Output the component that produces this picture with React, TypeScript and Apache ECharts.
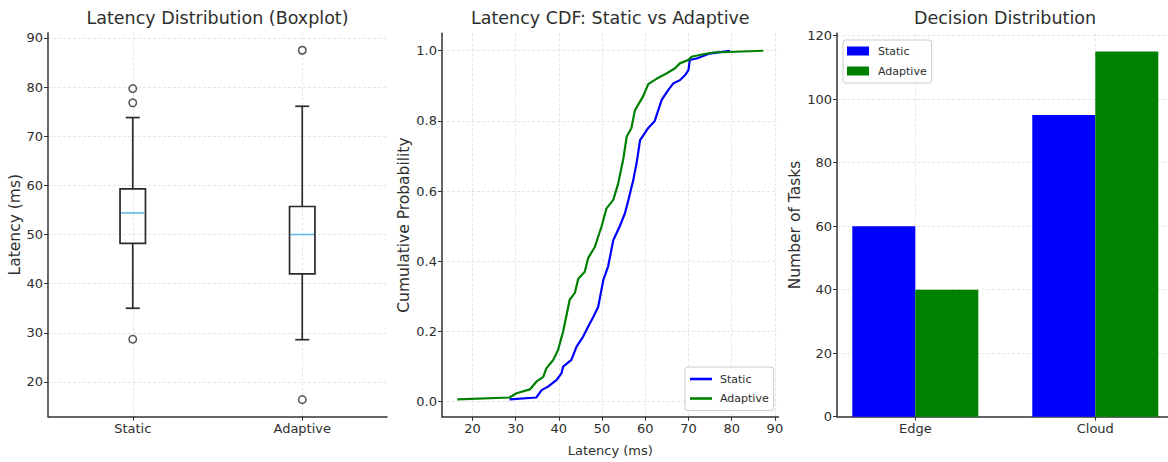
import React, { useEffect, useRef } from 'react';
import * as echarts from 'echarts';

// ---------- Data ----------
const boxCategories = ['Static', 'Adaptive'];
// [lower whisker, Q1, median, Q3, upper whisker]
const boxStats = [
  [35.0, 48.2, 54.4, 59.3, 73.8],
  [28.6, 42.0, 50.0, 55.7, 76.1],
];
const boxOutliers = [
  [79.7, 76.8, 28.7],
  [87.5, 16.4],
];
const boxYTicks = [20, 30, 40, 50, 60, 70, 80, 90];

// [latency (ms), cumulative probability]
const cdfStatic = [
  [28.6, 0.0065], [34.8, 0.012], [36.0, 0.033], [37.5, 0.043], [39.5, 0.062],
  [40.6, 0.081], [41.0, 0.1], [42.9, 0.119], [44.1, 0.157], [45.6, 0.185],
  [46.8, 0.214], [48.0, 0.242], [49.1, 0.27], [50.3, 0.347], [51.4, 0.385],
  [52.6, 0.46], [54.1, 0.5], [55.3, 0.537], [56.1, 0.575], [57.2, 0.63],
  [58.0, 0.68], [58.8, 0.745], [59.9, 0.765], [60.7, 0.78], [62.2, 0.8],
  [63.0, 0.83], [63.8, 0.86], [65.3, 0.888], [66.5, 0.907], [68.0, 0.916],
  [69.2, 0.93], [70.0, 0.945], [70.3, 0.974], [71.9, 0.978], [73.4, 0.985],
  [74.9, 0.992], [79.6, 1.0],
];
const cdfAdaptive = [
  [16.5, 0.0065], [28.6, 0.012], [30.2, 0.024], [33.3, 0.035], [34.8, 0.057],
  [36.4, 0.071], [37.1, 0.095], [38.7, 0.119], [39.8, 0.147], [41.0, 0.2],
  [42.5, 0.29], [43.7, 0.31], [44.5, 0.35], [46.0, 0.37], [46.8, 0.41],
  [48.3, 0.44], [49.1, 0.47], [49.9, 0.5], [51.0, 0.55], [52.6, 0.575],
  [53.7, 0.62], [54.9, 0.69], [55.7, 0.755], [56.8, 0.78], [57.6, 0.83],
  [59.5, 0.87], [60.7, 0.905], [62.6, 0.92], [64.9, 0.935], [66.9, 0.95],
  [68.0, 0.964], [70.0, 0.974], [70.7, 0.983], [73.4, 0.99], [75.8, 0.995],
  [87.3, 1.0],
];
const cdfXTicks = [20, 30, 40, 50, 60, 70, 80, 90];
const cdfYTicks = [0, 0.2, 0.4, 0.6, 0.8, 1.0];

const barCategories = ['Edge', 'Cloud'];
const barStatic = [60, 95];
const barAdaptive = [40, 115];
const barYTicks = [0, 20, 40, 60, 80, 100, 120];

// ---------- Styles ----------
const FONT = 'DejaVu Sans';
const TXT = '#2e2e2e';
const BLUE = '#0000ff';
const GREEN = '#008000';

function axis(
  gridIndex: number,
  min: number,
  max: number,
  ticks: number[],
  formatter: (v: number) => string,
  extra: any = {}
) {
  return {
    type: 'value',
    gridIndex,
    min,
    max,
    axisLine: { show: true, onZero: false, lineStyle: { color: '#333', width: 1.5 } },
    axisTick: { show: true, length: 4, customValues: ticks, lineStyle: { color: '#333', width: 1 } },
    axisLabel: {
      show: true,
      customValues: ticks,
      formatter,
      color: TXT,
      fontSize: 13,
      fontFamily: FONT,
      margin: 5,
    },
    splitLine: { show: true, lineStyle: { color: '#dedede', type: [3, 2], width: 0.8 } },
    nameTextStyle: { color: TXT, fontFamily: FONT, fontSize: 13 },
    ...extra,
  };
}

export default function App() {
  const ref = useRef<HTMLDivElement>(null);

  useEffect(() => {
    if (!ref.current) return;
    const chart = echarts.init(ref.current, undefined, { renderer: 'svg' });

    const boxData = boxStats.map((s, i) => [i + 1, ...s]);
    const outlierData: number[][] = [];
    boxOutliers.forEach((arr, i) => arr.forEach((v) => outlierData.push([i + 1, v])));

    const barLegendLabel = (n: string) => n.split(' ')[0];

    const option: any = {
      animation: false,
      backgroundColor: '#fff',
      textStyle: { fontFamily: FONT, color: TXT },
      graphic: [
        { type: 'text', x: 217.5, y: 18, style: { text: 'Latency Distribution (Boxplot)', align: 'center', verticalAlign: 'middle', fontSize: 17.5, fontFamily: FONT, fill: TXT } },
        { type: 'text', x: 610.3, y: 18, style: { text: 'Latency CDF: Static vs Adaptive', align: 'center', verticalAlign: 'middle', fontSize: 17.5, fontFamily: FONT, fill: TXT } },
        { type: 'text', x: 1005, y: 18, style: { text: 'Decision Distribution', align: 'center', verticalAlign: 'middle', fontSize: 17.5, fontFamily: FONT, fill: TXT } },
      ],
      grid: [
        { left: 48, top: 32.8, width: 339, height: 383.8 },
        { left: 442, top: 33.3, width: 336.5, height: 383.5 },
        { left: 837, top: 33.3, width: 331, height: 383.4 },
      ],
      legend: [
        {
          data: [
            { name: 'Static', icon: 'rect', itemStyle: { color: BLUE } },
            { name: 'Adaptive', icon: 'rect', itemStyle: { color: GREEN } },
          ],
          orient: 'vertical',
          left: 685,
          top: 367,
          padding: [6, 5, 6, 5],
          itemWidth: 22,
          itemHeight: 2.6,
          itemGap: 7.5,
          borderColor: '#ccc',
          borderWidth: 1,
          borderRadius: 3,
          backgroundColor: 'rgba(255,255,255,0.85)',
          selectedMode: false,
          textStyle: { fontSize: 11, color: TXT, fontFamily: FONT, lineHeight: 12, padding: [0, 0, 0, 3] },
        },
        {
          data: [
            { name: 'Static tasks', icon: 'rect' },
            { name: 'Adaptive tasks', icon: 'rect' },
          ],
          formatter: barLegendLabel,
          orient: 'vertical',
          left: 843,
          top: 40,
          padding: [5, 5, 6, 4],
          itemWidth: 22,
          itemHeight: 9,
          itemGap: 8,
          borderColor: '#ccc',
          borderWidth: 1,
          borderRadius: 3,
          backgroundColor: 'rgba(255,255,255,0.85)',
          selectedMode: false,
          textStyle: { fontSize: 11, color: TXT, fontFamily: FONT, lineHeight: 12, padding: [0, 0, 0, 4] },
        },
      ],
      xAxis: [
        axis(0, 0.5, 2.5, [1, 2], (v) => boxCategories[Math.round(v) - 1] ?? ''),
        axis(1, 12.96, 90.84, cdfXTicks, (v) => String(v), {
          name: 'Latency (ms)',
          nameLocation: 'middle',
          nameGap: 27,
        }),
        axis(2, -0.435, 1.404, [0, 1], (v) => barCategories[Math.round(v)] ?? ''),
      ],
      yAxis: [
        axis(0, 12.95, 91.05, boxYTicks, (v) => String(v), {
          name: 'Latency (ms)',
          nameLocation: 'middle',
          nameGap: 23,
          nameTextStyle: { color: TXT, fontFamily: FONT, fontSize: 15.5 },
        }),
        axis(1, -0.043, 1.0497, cdfYTicks, (v) => v.toFixed(1), {
          name: 'Cumulative Probability',
          nameLocation: 'middle',
          nameGap: 28,
          nameTextStyle: { color: TXT, fontFamily: FONT, fontSize: 15.5 },
        }),
        axis(2, 0, 120.75, barYTicks, (v) => String(v), {
          name: 'Number of Tasks',
          nameLocation: 'middle',
          nameGap: 33,
          nameTextStyle: { color: TXT, fontFamily: FONT, fontSize: 15.5 },
        }),
      ],
      series: [
        {
          type: 'custom',
          name: 'box',
          xAxisIndex: 0,
          yAxisIndex: 0,
          data: boxData,
          encode: { x: 0, y: [1, 2, 3, 4, 5] },
          renderItem: (params: any, api: any) => {
            const x = api.value(0);
            const vals = [1, 2, 3, 4, 5].map((i) => api.value(i));
            const ys = vals.map((v: number) => api.coord([x, v])[1]);
            const [lo, q1, med, q3, hi] = ys;
            const cx = api.coord([x, vals[0]])[0];
            const bw = api.size([0.15, 0])[0];
            const cw = bw * 0.55;
            const st = { stroke: '#2a2a2a', lineWidth: 1.7, fill: 'none' };
            return {
              type: 'group',
              children: [
                { type: 'line', shape: { x1: cx, y1: lo, x2: cx, y2: q1 }, style: st },
                { type: 'line', shape: { x1: cx, y1: q3, x2: cx, y2: hi }, style: st },
                { type: 'line', shape: { x1: cx - cw / 2, y1: lo, x2: cx + cw / 2, y2: lo }, style: st },
                { type: 'line', shape: { x1: cx - cw / 2, y1: hi, x2: cx + cw / 2, y2: hi }, style: st },
                { type: 'rect', shape: { x: cx - bw / 2, y: q3, width: bw, height: q1 - q3 }, style: st },
                { type: 'line', shape: { x1: cx - bw / 2 + 1, y1: med, x2: cx + bw / 2 - 1, y2: med }, style: { stroke: '#5bb8e6', lineWidth: 1.5 } },
              ],
            };
          },
        },
        {
          type: 'scatter',
          name: 'outliers',
          xAxisIndex: 0,
          yAxisIndex: 0,
          data: outlierData,
          symbol: 'circle',
          symbolSize: 7.5,
          itemStyle: { color: '#fff', borderColor: '#2a2a2a', borderWidth: 1.5 },
        },
        {
          type: 'line',
          name: 'Static',
          xAxisIndex: 1,
          yAxisIndex: 1,
          data: cdfStatic,
          symbol: 'none',
          showSymbol: false,
          color: BLUE,
          lineStyle: { color: BLUE, width: 2.2 },
        },
        {
          type: 'line',
          name: 'Adaptive',
          xAxisIndex: 1,
          yAxisIndex: 1,
          data: cdfAdaptive,
          symbol: 'none',
          showSymbol: false,
          color: GREEN,
          lineStyle: { color: GREEN, width: 2.2 },
        },
        {
          type: 'bar',
          name: 'Static tasks',
          xAxisIndex: 2,
          yAxisIndex: 2,
          data: barStatic.map((v, i) => [i, v]),
          barWidth: 63,
          barGap: '0%',
          color: BLUE,
          itemStyle: { color: BLUE },
        },
        {
          type: 'bar',
          name: 'Adaptive tasks',
          xAxisIndex: 2,
          yAxisIndex: 2,
          data: barAdaptive.map((v, i) => [i, v]),
          barWidth: 63,
          barGap: '0%',
          color: GREEN,
          itemStyle: { color: GREEN },
        },
      ],
    };

    chart.setOption(option);
    return () => chart.dispose();
  }, []);

  return (
    <div
      ref={ref}
      style={{ position: 'fixed', left: 0, top: 0, width: 1168, height: 462, background: '#fff' }}
    />
  );
}
